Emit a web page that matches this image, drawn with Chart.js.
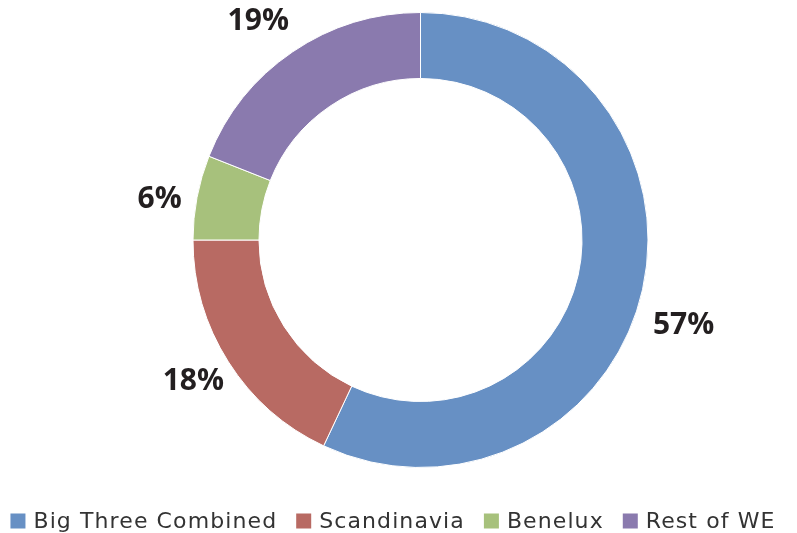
<!DOCTYPE html>
<html>
<head>
<meta charset="utf-8">
<script src="https://cdn.jsdelivr.net/npm/chart.js@4/dist/chart.umd.min.js"></script>
<style>
  html, body { margin: 0; padding: 0; background: #ffffff; }
  #wrap { width: 797px; height: 533px; position: relative; }
</style>
</head>
<body>
<div id="wrap"><canvas id="c" width="797" height="533"></canvas></div>
<script>
const categories = ["Big Three Combined", "Scandinavia", "Benelux", "Rest of WE"];
const shares = [57, 18, 6, 19];
const valueLabels = ["57%", "18%", "6%", "19%"];
const colors = ["#6790c4", "#b86a63", "#a7c17c", "#8a7aae"];

const outsideLabels = {
  id: "outsideLabels",
  afterDatasetsDraw(chart, args, opts) {
    const ctx = chart.ctx;
    const meta = chart.getDatasetMeta(0);
    ctx.save();
    ctx.font = "bold 30px 'Open Sans', sans-serif";
    ctx.fillStyle = "#231f20";
    ctx.textAlign = "center";
    ctx.textBaseline = "middle";
    meta.data.forEach((arc, i) => {
      const p = arc.getProps(["x", "y", "startAngle", "endAngle", "outerRadius"], true);
      const mid = (p.startAngle + p.endAngle) / 2;
      const r = p.outerRadius + opts.distance;
      const n = (opts.nudge && opts.nudge[i]) || [0, 0];
      ctx.fillText(valueLabels[i], p.x + Math.cos(mid) * r + n[0], p.y + Math.sin(mid) * r + n[1]);
    });
    ctx.restore();
  }
};

// Single-row legend drawn under the chart (built from categories/colors)
const rowLegend = {
  id: "rowLegend",
  afterDraw(chart, args, opts) {
    const ctx = chart.ctx;
    ctx.save();
    ctx.font = opts.font;
    ctx.letterSpacing = opts.letterSpacing;
    ctx.textBaseline = "middle";
    ctx.textAlign = "left";
    const widths = categories.map(c => ctx.measureText(c).width);
    let total = 0;
    widths.forEach((w, i) => {
      total += opts.box + opts.boxGap + w;
      if (i < widths.length - 1) total += opts.itemGap;
    });
    let x = opts.centerX - total / 2;
    const y = opts.y;
    categories.forEach((c, i) => {
      ctx.fillStyle = colors[i];
      ctx.fillRect(x, y - opts.box / 2, opts.box, opts.box);
      x += opts.box + opts.boxGap;
      ctx.fillStyle = opts.color;
      ctx.fillText(c, x, y + 1);
      x += widths[i] + opts.itemGap;
    });
    ctx.restore();
  }
};

new Chart(document.getElementById("c"), {
  type: "doughnut",
  data: {
    labels: categories,
    datasets: [{
      data: shares,
      backgroundColor: colors,
      borderColor: "#ffffff",
      borderWidth: 1,
      hoverOffset: 0
    }]
  },
  options: {
    responsive: false,
    animation: false,
    cutout: "71%",
    layout: { padding: { left: 44, right: 0, top: 12, bottom: 65 } },
    plugins: {
      tooltip: { enabled: false },
      legend: { display: false },
      outsideLabels: { distance: 38, nudge: [[4, 28], [-3, -1], [0, 9], [-13, 1]] },
      rowLegend: {
        font: "22px 'DejaVu Sans', sans-serif",
        letterSpacing: "1.1px",
        color: "#333333",
        box: 15,
        boxGap: 8,
        itemGap: 19,
        centerX: 393,
        y: 521
      }
    }
  },
  plugins: [outsideLabels, rowLegend]
});
</script>
</body>
</html>
